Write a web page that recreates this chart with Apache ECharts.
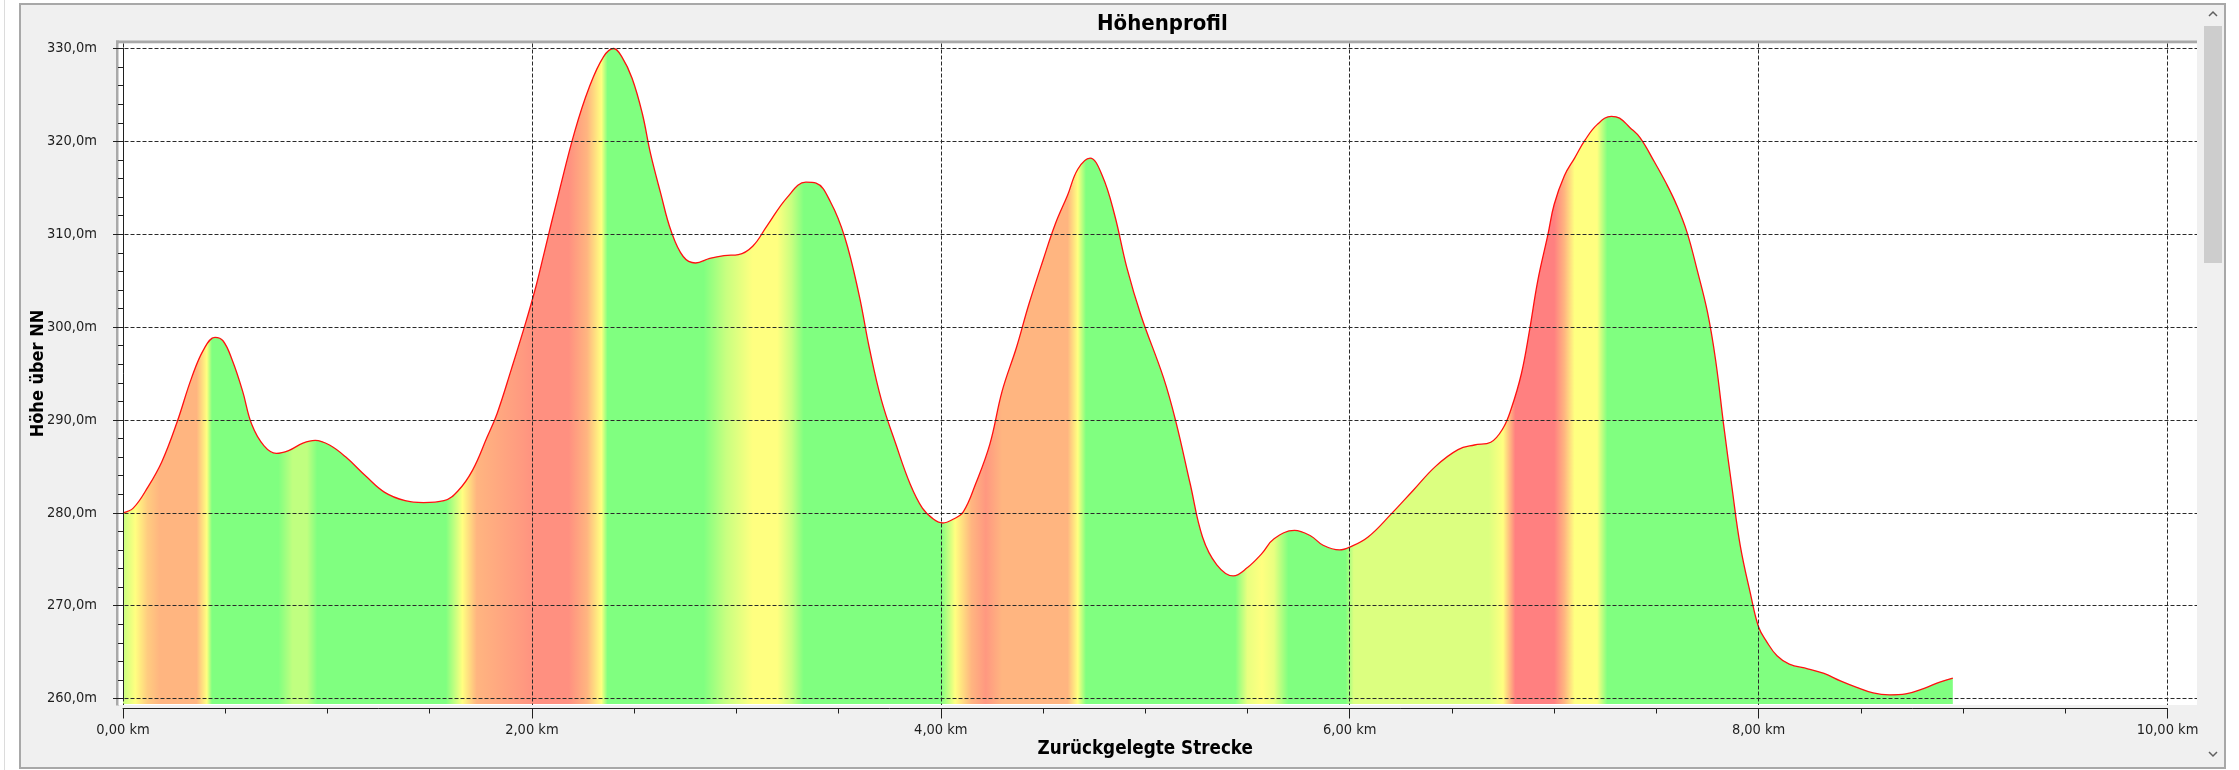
<!DOCTYPE html>
<html>
<head>
<meta charset="utf-8">
<title>Höhenprofil</title>
<script src="https://cdn.jsdelivr.net/npm/echarts@6/dist/echarts.min.js"></script>
<style>
html, body { margin: 0; padding: 0; background: #fff; }
#chart { width: 2239px; height: 770px; }
</style>
</head>
<body>
<div id="chart"></div>
<script>
// Höhenprofil – Höhe über NN entlang der Strecke

var distKm = [
  0.00, 0.05, 0.12, 0.19, 0.265, 0.335, 0.395, 0.45, 0.49, 0.535, 0.585, 0.63, 0.69, 0.75, 0.81, 0.88, 0.94,
  1.01, 1.09, 1.19, 1.28, 1.38, 1.47, 1.57, 1.64, 1.71, 1.78, 1.83, 1.90, 1.97,
  2.02, 2.06, 2.13, 2.21, 2.28, 2.35, 2.40, 2.44, 2.49, 2.54, 2.58, 2.63, 2.68, 2.74, 2.80, 2.87, 2.94,
  3.01, 3.08, 3.15, 3.25, 3.34, 3.39, 3.46, 3.53, 3.60, 3.65, 3.71, 3.78, 3.85, 3.91, 3.965,
  4.01, 4.06, 4.11, 4.17, 4.24, 4.30, 4.37, 4.43, 4.50, 4.56, 4.62, 4.67, 4.73, 4.79, 4.85, 4.91, 4.98,
  5.09, 5.15, 5.22, 5.28, 5.35, 5.43, 5.50, 5.57, 5.63, 5.73, 5.81, 5.87, 5.95,
  6.00, 6.09, 6.20, 6.31, 6.42, 6.53, 6.61, 6.69, 6.75, 6.79, 6.84, 6.88, 6.92, 6.97,
  7.00, 7.05, 7.10, 7.15, 7.21, 7.28, 7.32, 7.37, 7.42, 7.49, 7.55, 7.60, 7.65, 7.70, 7.75, 7.79, 7.83, 7.87, 7.91, 7.96,
  8.00, 8.04, 8.09, 8.15, 8.24, 8.32, 8.40, 8.48, 8.56, 8.64, 8.72, 8.81, 8.89, 8.95
];
var heightM = [
  280.0, 280.5, 282.7, 285.5, 289.8, 294.5, 297.6, 298.9, 298.5, 296.4, 293.1, 289.5, 287.2, 286.4, 286.7, 287.5, 287.8,
  287.3, 286.0, 283.9, 282.2, 281.3, 281.1, 281.3, 282.4, 284.6, 288.1, 290.7, 295.5, 300.5,
  304.4, 308.0, 314.3, 321.1, 325.8, 329.1, 330.0, 329.1, 326.8, 323.0, 318.7, 314.4, 310.4, 307.6, 306.9, 307.4, 307.7,
  307.8, 308.7, 310.9, 314.0, 315.6, 315.5, 313.5, 309.7, 303.5, 297.8, 292.1, 287.4, 283.1, 280.5, 279.3,
  278.9, 279.3, 280.1, 283.1, 287.4, 293.1, 297.8, 302.4, 307.2, 311.1, 314.2, 317.0, 318.2, 316.3, 312.1, 306.4, 301.2,
  294.5, 289.8, 283.1, 277.4, 274.4, 273.2, 274.1, 275.6, 277.2, 278.1, 277.5, 276.5, 276.0,
  276.3, 277.4, 279.8, 282.4, 285.0, 286.8, 287.3, 287.6, 289.1, 291.2, 295.0, 299.7, 305.0, 310.0,
  313.2, 316.3, 318.2, 320.1, 321.8, 322.7, 322.5, 321.5, 320.4, 317.8, 315.4, 313.1, 310.2, 306.1, 301.6, 296.4, 289.3, 282.7, 276.5, 271.3,
  267.7, 266.1, 264.6, 263.7, 263.2, 262.7, 261.9, 261.2, 260.6, 260.4, 260.5, 261.1, 261.8, 262.2
];

var xTicks = [0, 2, 4, 6, 8, 10];
var yTicks = [260, 270, 280, 290, 300, 310, 320, 330];

// Steigungsfarben entlang der Strecke (km, Farbe)
var GREEN = '#80ff80', YELLOW = '#ffff80', ORANGE = '#ffb580', RED = '#ff8080', SALMON = '#ff9080';
var shadeStops = [
  [0.00, '#c8ff80'], [0.06, YELLOW], [0.12, '#ffcc80'], [0.18, ORANGE], [0.36, ORANGE], [0.41, YELLOW], [0.435, GREEN],
  [0.76, GREEN], [0.83, '#c0ff80'], [0.90, '#c0ff80'], [0.95, GREEN],
  [1.58, GREEN], [1.66, YELLOW], [1.73, ORANGE], [1.95, '#ff9a80'], [2.02, SALMON], [2.18, SALMON], [2.27, ORANGE],
  [2.34, YELLOW], [2.37, GREEN],
  [2.84, GREEN], [2.95, '#c8ff80'], [3.08, YELLOW], [3.20, YELLOW], [3.27, '#c8ff80'], [3.33, GREEN],
  [4.00, GREEN], [4.07, YELLOW], [4.15, ORANGE], [4.22, '#ff9880'], [4.30, ORANGE], [4.62, ORANGE], [4.67, YELLOW], [4.71, GREEN],
  [5.44, GREEN], [5.50, '#e8ff80'], [5.57, YELLOW], [5.63, '#e8ff80'], [5.70, GREEN],
  [5.98, GREEN], [6.02, '#dcff80'], [6.68, '#dcff80'], [6.75, YELLOW], [6.81, RED], [7.00, RED], [7.05, ORANGE],
  [7.10, YELLOW], [7.21, YELLOW], [7.26, GREEN], [8.95, GREEN]
];

var FONT = "'DejaVu Sans Condensed', 'DejaVu Sans', sans-serif";

var chart = echarts.init(document.getElementById('chart'));

var points = distKm.map(function (d, i) { return [d, heightM[i]]; });
var x0 = distKm[0], x1 = distKm[distKm.length - 1];
var gradient = new echarts.graphic.LinearGradient(0, 0, 1, 0, shadeStops.map(function (s) {
  return { offset: (s[0] - x0) / (x1 - x0), color: s[1] };
}));

// Pixelskala: 0 km -> 123, 10 km -> 2167.5; 330 m -> 48.5, 260 m -> 698.5
var pxKm = (2167.5 - 123) / 10;
var pxM = (698.5 - 48.5) / 70;

function kmLabel(v) { return v.toFixed(2).replace('.', ',') + ' km'; }
function mLabel(v) { return v.toFixed(1).replace('.', ',') + 'm'; }

chart.setOption({
  backgroundColor: '#ffffff',
  animation: false,
  title: {
    text: 'Höhenprofil',
    left: 1092,
    top: 8,
    textStyle: { fontFamily: FONT, fontWeight: 'bold', fontSize: 22, color: '#000' }
  },
  graphic: [
    { type: 'rect', z: -5, silent: true, shape: { x: 4, y: 0, width: 1, height: 770 }, style: { fill: '#dcdcdc' } },
    { type: 'rect', z: -5, silent: true, shape: { x: 20, y: 4, width: 2205, height: 764 },
      style: { fill: '#f0f0f0', stroke: '#a8a8a8', lineWidth: 2 } },
    { type: 'rect', z: -4, silent: true, shape: { x: 116, y: 40.5, width: 2081, height: 3 }, style: { fill: '#a9a9a9' } },
    { type: 'rect', z: -4, silent: true, shape: { x: 116, y: 40.5, width: 3, height: 665 }, style: { fill: '#a9a9a9' } },
    // Scrollbar
    { type: 'rect', z: -4, silent: true, shape: { x: 2203, y: 5, width: 20, height: 762 }, style: { fill: '#f0f0f0' } },
    { type: 'rect', z: -4, silent: true, shape: { x: 2204, y: 26, width: 18, height: 237 }, style: { fill: '#cdcdcd' } },
    { type: 'polyline', z: -4, silent: true, shape: { points: [[2209, 16], [2213, 12], [2217, 16]] },
      style: { stroke: '#606060', lineWidth: 1.5, fill: null } },
    { type: 'polyline', z: -4, silent: true, shape: { points: [[2209, 752], [2213, 756], [2217, 752]] },
      style: { stroke: '#606060', lineWidth: 1.5, fill: null } }
  ],
  grid: [
    { left: 123, right: 2239 - 2167.5, top: 48.5, bottom: 770 - 698.5 },
    { left: 118.5, right: 2239 - 2197, top: 43.5, bottom: 770 - 705, show: true, backgroundColor: '#ffffff', borderWidth: 0, z: -3 }
  ],
  xAxis: [
    {
      type: 'value', gridIndex: 0, min: 0, max: 10, interval: 2, offset: 10, z: 4,
      name: 'Zurückgelegte Strecke', nameLocation: 'middle', nameGap: 31, nameMoveOverlap: false,
      nameTextStyle: { fontFamily: FONT, fontWeight: 'bold', fontSize: 18.7, color: '#000' },
      axisLine: { show: true, lineStyle: { color: '#202020', width: 1 } },
      axisTick: { show: true, length: 10, lineStyle: { color: '#202020' } },
      minorTick: { show: true, splitNumber: 4, length: 5, lineStyle: { color: '#202020' } },
      axisLabel: { margin: 14, fontFamily: FONT, fontSize: 14.5, color: '#1e1e1e', formatter: kmLabel },
      splitLine: { show: false }
    },
    {
      type: 'value', gridIndex: 1, z: 4,
      min: 0 - (123 - 118.5) / pxKm, max: 10 + (2197 - 2167.5) / pxKm,
      axisLine: { show: false }, axisLabel: { show: false },
      axisTick: { show: false, customValues: xTicks },
      splitLine: { show: true, lineStyle: { color: '#2a2a2a', type: [4, 2], width: 1 } }
    }
  ],
  yAxis: [
    {
      type: 'value', gridIndex: 0, min: 260, max: 330, interval: 10, offset: 10, z: 4,
      name: 'Höhe über NN', nameLocation: 'middle', nameRotate: 90, nameGap: 66, nameMoveOverlap: false,
      nameTextStyle: { fontFamily: FONT, fontWeight: 'bold', fontSize: 18, color: '#000' },
      axisLine: { show: true, lineStyle: { color: '#202020', width: 1 } },
      axisTick: { show: true, length: 10, lineStyle: { color: '#202020' } },
      minorTick: { show: true, splitNumber: 5, length: 5, lineStyle: { color: '#202020' } },
      axisLabel: { margin: 16, fontFamily: FONT, fontSize: 14.5, color: '#1e1e1e', formatter: mLabel },
      splitLine: { show: false }
    },
    {
      type: 'value', gridIndex: 1, z: 4,
      min: 260 - (705 - 698.5) / pxM, max: 330 + (48.5 - 43.5) / pxM,
      axisLine: { show: false }, axisLabel: { show: false },
      axisTick: { show: false, customValues: yTicks },
      splitLine: { show: true, lineStyle: { color: '#2a2a2a', type: [4, 2], width: 1 } }
    }
  ],
  series: [
    {
      name: 'Höhe',
      type: 'line',
      xAxisIndex: 0,
      yAxisIndex: 0,
      data: points,
      clip: false,
      smooth: 0.4,
      showSymbol: false,
      lineStyle: { color: '#ff1010', width: 1.3 },
      areaStyle: { color: gradient, opacity: 1, origin: 260 - (704 - 698.5) / pxM }
    }
  ]
});
</script>
</body>
</html>
